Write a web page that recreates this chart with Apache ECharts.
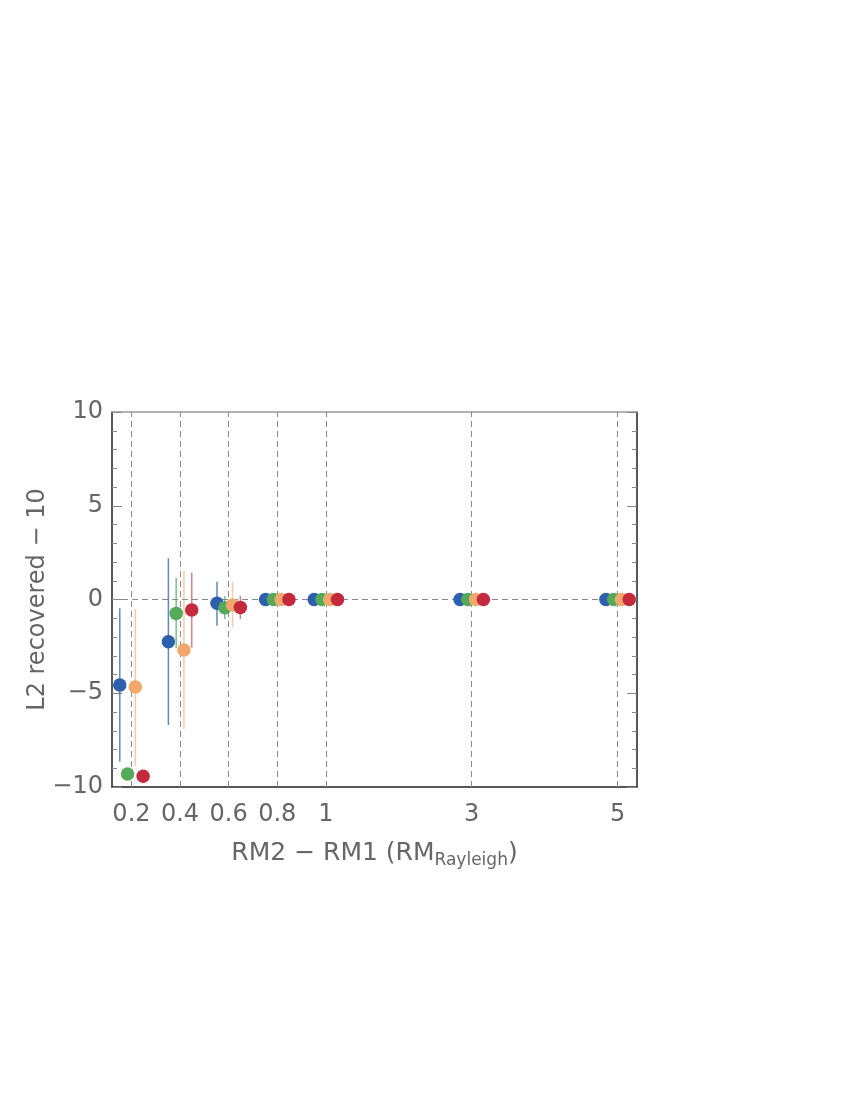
<!DOCTYPE html>
<html>
<head>
<meta charset="utf-8">
<script src="https://cdn.jsdelivr.net/npm/echarts@6/dist/echarts.min.js"></script>
<style>
    html, body { margin: 0; padding: 0; background: #fff; }
    #main { width: 850px; height: 1100px; }
</style>
</head>
<body>
<div id="main"></div>
<script>
    // RM2 - RM1 separations (in RM_Rayleigh) and their tick labels
    var separations = [0.2, 0.4, 0.6, 0.8, 1, 3, 5];
    var sepLabels = ['0.2', '0.4', '0.6', '0.8', '1', '3', '5'];

    // L2 recovered - 10 for the four runs, with error bar ends (null = no bar)
    var blueVals = [-4.56, -2.25, -0.2, 0, 0, 0, 0];
    var blueLo   = [-8.65, -6.69, -1.4, null, null, null, null];
    var blueHi   = [-0.47, 2.2, 0.95, null, null, null, null];

    var greenVals = [-9.31, -0.74, -0.44, 0, 0, 0, 0];
    var greenLo   = [null, -2.6, -1.04, null, null, null, null];
    var greenHi   = [null, 1.16, 0.19, null, null, null, null];

    var orangeVals = [-4.67, -2.69, -0.29, 0, 0, 0, 0];
    var orangeLo   = [-8.86, -6.91, -1.48, null, null, null, null];
    var orangeHi   = [-0.51, 1.52, 0.95, null, null, null, null];

    var redVals = [-9.43, -0.56, -0.42, 0, 0, 0, 0];
    var redLo   = [null, -2.57, -1.04, null, null, null, null];
    var redHi   = [null, 1.43, 0.19, null, null, null, null];

    // the x axis is broken: 0.2 steps up to 1, then wider steps
    function slot (v) {
        return v <= 1 ? v / 0.2 : 5 + (v - 1) * 1.5
    }

    var runs = [
        { name: 'run 1', vals: blueVals, lo: blueLo, hi: blueHi, color: '#2c5fad', bar: 'rgba(44,95,173,0.75)', dx: -0.24 },
        { name: 'run 2', vals: greenVals, lo: greenLo, hi: greenHi, color: '#55aa59', bar: 'rgba(85,170,89,0.75)', dx: -0.08 },
        { name: 'run 3', vals: orangeVals, lo: orangeLo, hi: orangeHi, color: '#f1a86a', bar: 'rgba(241,168,106,0.6)', dx: 0.08 },
        { name: 'run 4', vals: redVals, lo: redLo, hi: redHi, color: '#c42a3d', bar: 'rgba(196,42,61,0.6)', dx: 0.24 }
    ];

    var tickSlots = separations.map(slot);
    var labelOf = {};
    separations.forEach(function (s, i) { labelOf[slot(s).toFixed(2)] = sepLabels[i] });

    var series = [];

    // dashed guide lines, kept underneath the marks
    series.push({
        type: 'scatter',
        z: 1,
        data: [],
        markLine: {
            z: 1,
            silent: true,
            symbol: 'none',
            label: { show: false },
            lineStyle: { color: '#8a8a8a', type: [6, 4], width: 1 },
            data: tickSlots.map(function (x) { return { xAxis: x } }).concat([{ yAxis: 0 }])
        }
    });

    runs.forEach(function (r) {
        var bars = [];
        separations.forEach(function (s, i) {
            if (r.lo[i] !== null) bars.push([slot(s) + r.dx, r.lo[i], r.hi[i]]);
        });
        series.push({
            name: r.name + ' err',
            type: 'custom',
            z: 2,
            data: bars,
            encode: { x: 0, y: [1, 2] },
            renderItem: function (params, api) {
                var p1 = api.coord([api.value(0), api.value(1)]);
                var p2 = api.coord([api.value(0), api.value(2)]);
                return {
                    type: 'line',
                    shape: { x1: p1[0], y1: p1[1], x2: p2[0], y2: p2[1] },
                    style: { stroke: r.bar, lineWidth: 1.5 }
                }
            }
        });
    });

    runs.forEach(function (r) {
        series.push({
            name: r.name,
            type: 'scatter',
            z: 3,
            symbolSize: 13.5,
            itemStyle: { color: r.color, opacity: 1 },
            data: separations.map(function (s, i) { return [slot(s) + r.dx, r.vals[i]] })
        });
    });

    var fontFam = 'DejaVu Sans';
    var txtColor = '#666';
    var myChart = echarts.init(document.getElementById('main'));

    myChart.setOption({
        animation: false,
        grid: { left: 112, top: 412, width: 525, height: 375 },
        xAxis: [
            {
                type: 'value',
                min: 0.6,
                max: 11.4,
                position: 'bottom',
                name: '{a|RM2 \u2212 RM1 (RM}{s|Rayleigh}{a|)}',
                nameLocation: 'middle',
                nameGap: 50,
                nameMoveOverlap: false,
                nameTextStyle: {
                    rich: {
                        a: { fontSize: 25, color: txtColor, fontFamily: fontFam, lineHeight: 32 },
                        s: { fontSize: 17, color: txtColor, fontFamily: fontFam, lineHeight: 32, verticalAlign: 'bottom', padding: [14, 0, 0, 0] }
                    }
                },
                axisLine: { show: true, onZero: false, lineStyle: { color: '#222', width: 1.5 } },
                axisTick: { show: true, inside: true, length: 5, customValues: tickSlots, lineStyle: { color: '#888' } },
                axisLabel: {
                    customValues: tickSlots,
                    margin: 16,
                    fontSize: 24,
                    color: txtColor,
                    fontFamily: fontFam,
                    formatter: function (v) { return labelOf[v.toFixed(2)] || '' }
                },
                splitLine: { show: false }
            },
            {
                type: 'value',
                min: 0.6,
                max: 11.4,
                position: 'top',
                axisLine: { show: true, onZero: false, lineStyle: { color: '#999', width: 1.5 } },
                axisTick: { show: false },
                axisLabel: { show: false },
                splitLine: { show: false }
            }
        ],
        yAxis: [
            {
                type: 'value',
                min: -10,
                max: 10,
                interval: 5,
                name: 'L2 recovered \u2212 10',
                nameLocation: 'middle',
                nameGap: 62,
                nameMoveOverlap: false,
                nameTextStyle: { fontSize: 24, color: txtColor, fontFamily: fontFam },
                axisLine: { show: true, onZero: false, lineStyle: { color: '#222', width: 1.5 } },
                axisTick: { show: true, inside: true, length: 10, lineStyle: { color: '#888' } },
                minorTick: { show: true, splitNumber: 5, length: 5, lineStyle: { color: '#888' } },
                axisLabel: {
                    margin: 9,
                    fontSize: 24,
                    color: txtColor,
                    fontFamily: fontFam,
                    formatter: function (v) { return v < 0 ? '\u2212' + Math.abs(v) : String(v) }
                },
                splitLine: { show: false }
            },
            {
                type: 'value',
                min: -10,
                max: 10,
                interval: 5,
                position: 'right',
                axisLine: { show: true, onZero: false, lineStyle: { color: '#222', width: 1.5 } },
                axisTick: { show: true, inside: true, length: 10, lineStyle: { color: '#888' } },
                minorTick: { show: true, splitNumber: 5, length: 5, lineStyle: { color: '#888' } },
                axisLabel: { show: false },
                splitLine: { show: false }
            }
        ],
        series: series
    });
</script>
</body>
</html>
